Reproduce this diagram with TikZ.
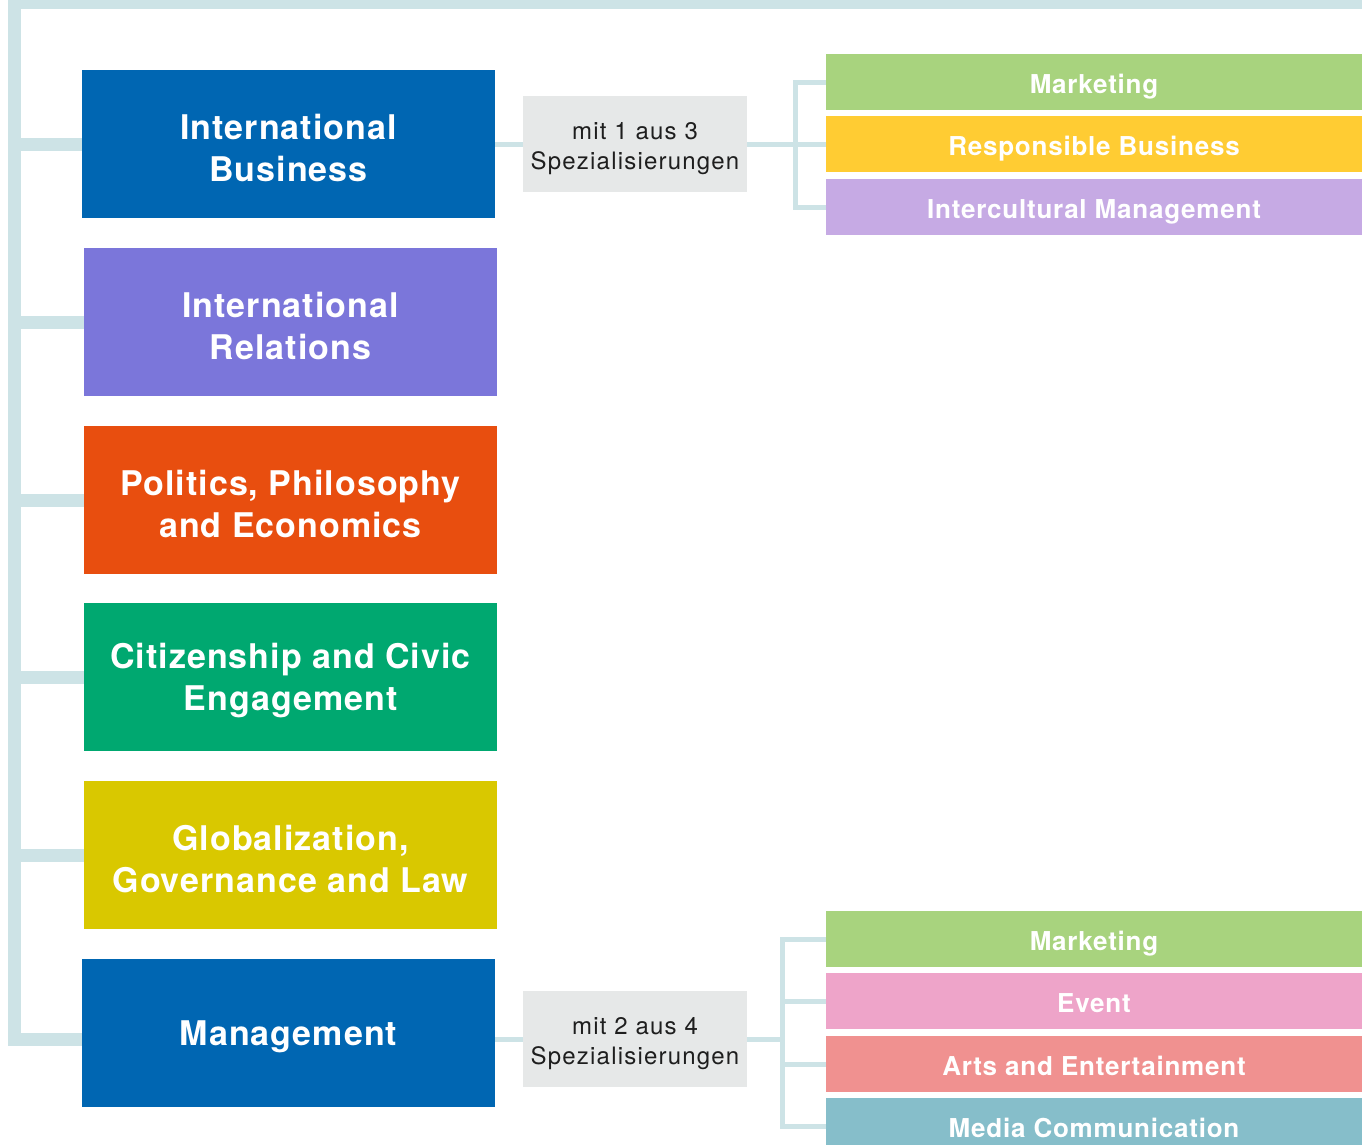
\documentclass[tikz,border=0pt]{standalone}
\usepackage{fontspec}
\setmainfont{TeX Gyre Heros}
\newfontfamily\headfont{TeX Gyre Heros}[LetterSpace=3]
\newfontfamily\notefont{TeX Gyre Heros}[LetterSpace=5]
\definecolor{lineblue}{HTML}{CDE3E6}
\definecolor{ibblue}{HTML}{0066B2}
\definecolor{irpurple}{HTML}{7B76DA}
\definecolor{ppeorange}{HTML}{E84E0F}
\definecolor{ccegreen}{HTML}{00A870}
\definecolor{gglyellow}{HTML}{D9C800}
\definecolor{notegray}{HTML}{E6E8E8}
\definecolor{notetext}{HTML}{1E1E1E}
\definecolor{mkgreen}{HTML}{A8D37E}
\definecolor{rbyellow}{HTML}{FFCC33}
\definecolor{imlilac}{HTML}{C6AAE4}
\definecolor{evpink}{HTML}{EEA4C9}
\definecolor{aepink}{HTML}{F09190}
\definecolor{mcteal}{HTML}{86BECA}
\tikzset{
  spine/.style={draw=lineblue, line width=13pt},
  link/.style={draw=lineblue, line width=5pt},
  course/.style={fill=#1, minimum width=413pt, minimum height=148pt, inner sep=0pt},
  coursetext/.style={text=white, align=center, inner sep=0pt, yshift=-4pt,
    font=\headfont\fontsize{34}{42}\selectfont\bfseries},
  note/.style={fill=notegray, minimum width=224pt, minimum height=96pt, inner sep=0pt},
  notetext/.style={text=notetext, align=center, inner sep=0pt, yshift=-5pt,
    font=\notefont\fontsize{24}{30}\selectfont},
  spec/.style={fill=#1, text=white, minimum width=536pt, minimum height=56pt, inner sep=0pt,
    text height=23pt, text depth=0pt, font=\headfont\fontsize{26}{30}\selectfont\bfseries},
}

\begin{document}
\begin{tikzpicture}[x=1pt, y=-1pt]
    \useasboundingbox (0,0) rectangle (1369,1144);
    \foreach \n/\x/\y/\col/\txt in {ib/288.5/144/ibblue/{International\\Business},
        ir/290.5/322/irpurple/{International\\Relations},
        ppe/290.5/500/ppeorange/{Politics, Philosophy\\and Economics},
        cce/290.5/677/ccegreen/{Citizenship and Civic\\Engagement},
        ggl/290.5/855/gglyellow/{Globalization,\\Governance and Law},
        mg/288.5/1033/ibblue/{Management}}{
        \node[course=\col, label={[coursetext]center:\txt}] (\n) at (\x,\y) {};
    }
    \node[note, label={[notetext]center:mit 1 aus 3\\Spezialisierungen}] (n1) at (635,144) {};
    \node[note, label={[notetext]center:mit 2 aus 4\\Spezialisierungen}] (n2) at (635,1039) {};
    \foreach \n/\y/\col/\txt in {sa/82/mkgreen/Marketing, sb/144/rbyellow/Responsible Business,
        sc/207/imlilac/Intercultural Management, ta/939/mkgreen/Marketing, tb/1001/evpink/Event,
        tc/1064/aepink/Arts and Entertainment, td/1126/mcteal/Media Communication}{
        \node[spec=\col] (\n) at (1094,\y) {\txt};
    }
    \coordinate (top) at (14.5,0);
    \coordinate (fork1) at (795.5,144);
    \coordinate (fork2) at (782.5,1039);
    \draw[spine, line width=9pt] (8,4.5) -- (1362,4.5);
    \draw[spine] (top) |- (n2.west -| mg.west);
    \foreach \n in {ib,ir,ppe,cce,ggl}{
        \draw[spine] (\n.west -| top) -- (\n.west);
    }
    \draw[link] (ib) -- (n1);
    \draw[link] (n1) -- (sb);
    \draw[link] (sa.west) -| (fork1) |- (sc.west);
    \draw[link] (n2.west) -- (n2.west -| mg.east);
    \draw[link] (n2) -- (fork2);
    \draw[link] (ta.west) -| (fork2) |- (td.west);
    \foreach \n in {tb,tc}{
        \draw[link] (\n.west) -- (\n.west -| fork2);
    }
\end{tikzpicture}
\end{document}
